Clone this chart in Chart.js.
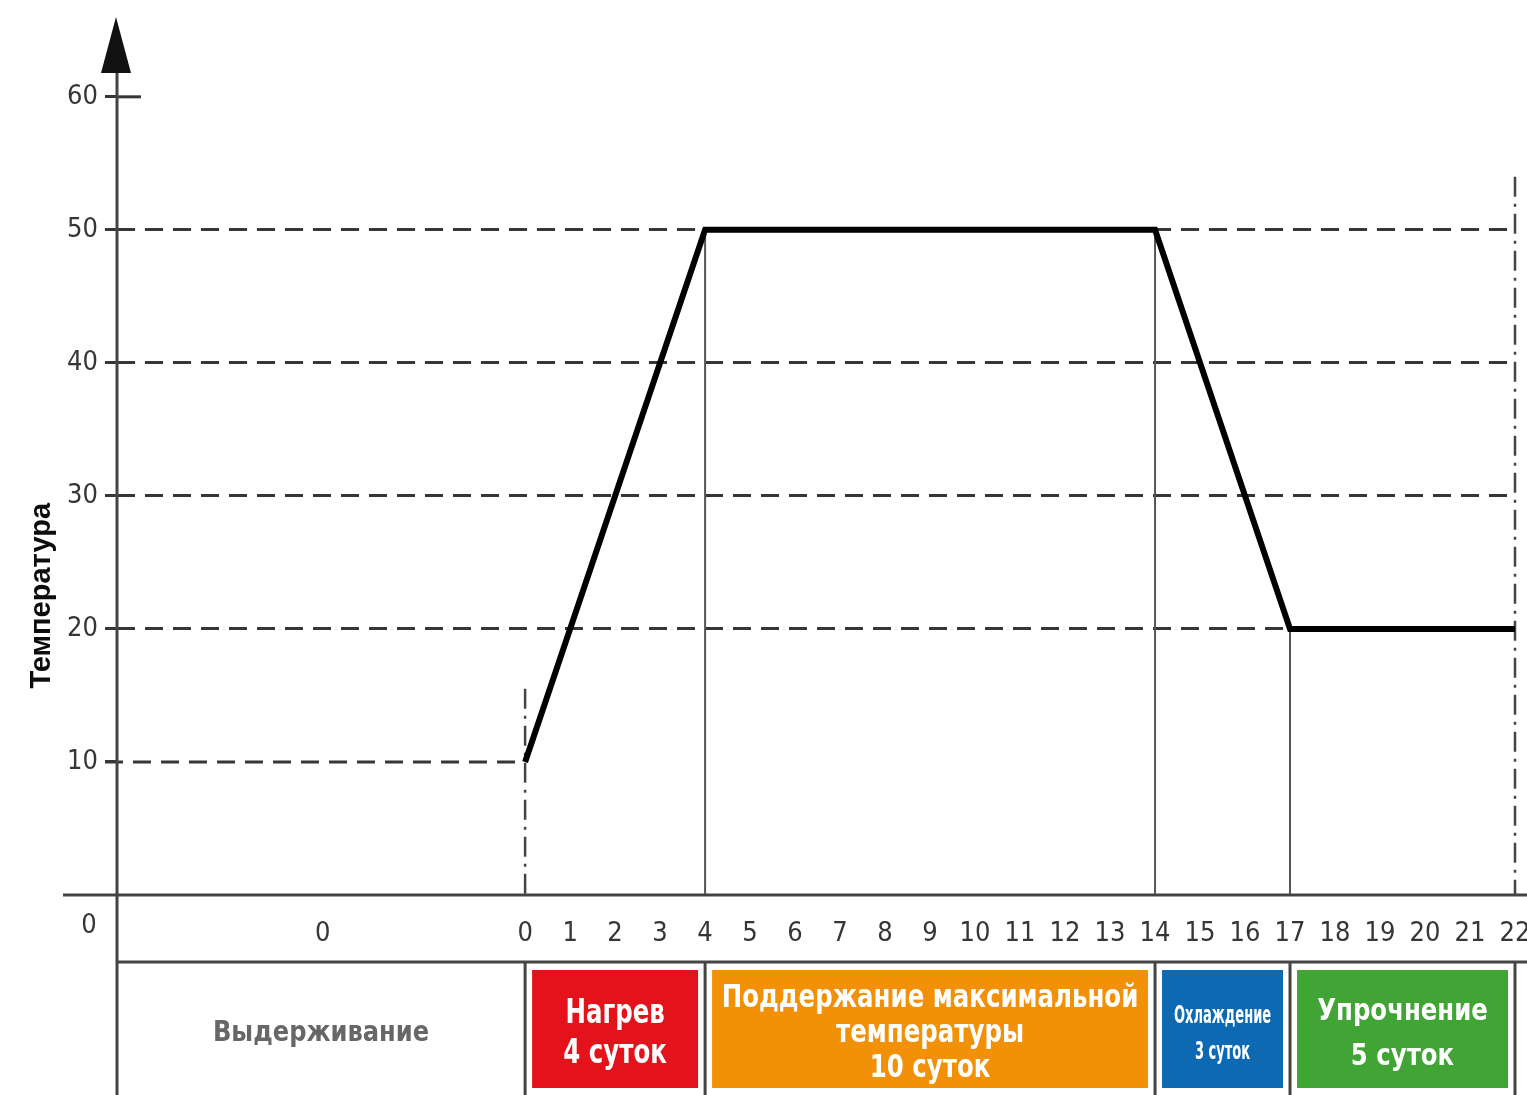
<!DOCTYPE html>
<html lang="ru">
<head>
<meta charset="utf-8">
<title>Температурный режим</title>
<script src="https://cdn.jsdelivr.net/npm/chart.js@4.4.1/dist/chart.umd.min.js"></script>
<style>
  html, body { margin: 0; padding: 0; background: #fff; }
  #wrap { width: 1527px; height: 1095px; position: relative; }
</style>
</head>
<body>
<div id="wrap"><canvas id="tempChart"></canvas></div>
<script>
// values
const dayTicks = [0, 1, 2, 3, 4, 5, 6, 7, 8, 9, 10, 11, 12, 13, 14, 15, 16, 17, 18, 19, 20, 21, 22];
const holdDays = 9.07;        // width of the holding column, in days
const holdLabelDay = -4.5;    // where its "0" sits
const tempDays = [0, 4, 14, 17, 22];
const tempValues = [10, 50, 50, 20, 20];
const tempTicks = [10, 20, 30, 40, 50, 60];
const dashedTemps = [20, 30, 40, 50];
const holdTemp = 10;
const startMarkTop = 15.5;    // dash-dot line at day 0 goes up to here
const endMarkTop = 54;        // dash-dot line at day 22
const phaseEdges = [0, 4, 14, 17, 22];
const holdLabel = 'Выдерживание';
const phaseLabels = [
  ['Нагрев', '4 суток'],
  ['Поддержание максимальной', 'температуры', '10 суток'],
  ['Охлаждение', '3 суток'],
  ['Упрочнение', '5 суток']
];
const phaseColors = ['#e3121b', '#f29108', '#0e69b3', '#40a535'];
const yTitle = 'Температура';

const NARROW = '"Liberation Sans Narrow", "DejaVu Sans Condensed", "Arial Narrow", sans-serif';
const INK = '#363636';

// fonts in the table are condensed; squeeze canvas text horizontally
function squeeze(ctx, text, x, y, factor) {
  ctx.save();
  ctx.translate(x, y);
  ctx.scale(factor, 1);
  ctx.fillText(text, 0, 0);
  ctx.restore();
}

// dashed level at 10, drop lines and dash-dot markers, under the curve
const guides = {
  id: 'guides',
  beforeDatasetsDraw(chart) {
    const { ctx, chartArea } = chart;
    const x = chart.scales.x, y = chart.scales.y;
    const y0 = y.getPixelForValue(0);
    ctx.save();
    ctx.strokeStyle = INK;
    ctx.lineWidth = 3;
    ctx.setLineDash([18, 10]);
    ctx.beginPath();
    ctx.moveTo(chartArea.left - 12, y.getPixelForValue(holdTemp));
    ctx.lineTo(x.getPixelForValue(0), y.getPixelForValue(holdTemp));
    ctx.stroke();

    // thin drops from the corners of the curve
    ctx.setLineDash([]);
    ctx.lineWidth = 2;
    ctx.strokeStyle = '#555';
    for (let i = 1; i < tempDays.length - 1; i++) {
      const px = x.getPixelForValue(tempDays[i]);
      ctx.beginPath();
      ctx.moveTo(px, y.getPixelForValue(tempValues[i]));
      ctx.lineTo(px, y0);
      ctx.stroke();
    }

    // dash-dot markers at start and end
    ctx.lineWidth = 2.5;
    ctx.strokeStyle = '#444';
    ctx.setLineDash([20, 7, 3, 7]);
    [[0, startMarkTop], [22, endMarkTop]].forEach(([d, top]) => {
      const px = x.getPixelForValue(d);
      ctx.beginPath();
      ctx.moveTo(px, y.getPixelForValue(top));
      ctx.lineTo(px, y0);
      ctx.stroke();
    });

    // short stub of the 60 tick right of the axis
    ctx.setLineDash([]);
    ctx.lineWidth = 3;
    ctx.strokeStyle = INK;
    ctx.beginPath();
    ctx.moveTo(chartArea.left, y.getPixelForValue(60));
    ctx.lineTo(chartArea.left + 24, y.getPixelForValue(60));
    ctx.stroke();
    ctx.restore();
  },
  afterDraw(chart) {
    const { ctx, chartArea } = chart;
    const x = chart.scales.x, y = chart.scales.y;
    const W = chart.width, H = chart.height;
    const ax = chartArea.left;
    const y0 = y.getPixelForValue(0);
    const rowY = y0 + 67;
    ctx.save();

    // axes
    ctx.strokeStyle = '#444';
    ctx.lineWidth = 3;
    ctx.beginPath();
    ctx.moveTo(ax, y.getPixelForValue(y.max) + 50);
    ctx.lineTo(ax, H);
    ctx.moveTo(63, y0);
    ctx.lineTo(W, y0);
    ctx.moveTo(ax, rowY);
    ctx.lineTo(W, rowY);
    phaseEdges.forEach(d => {
      const px = x.getPixelForValue(d);
      ctx.moveTo(px, rowY);
      ctx.lineTo(px, H);
    });
    ctx.stroke();

    // arrow head
    const tip = y.getPixelForValue(y.max);
    ctx.fillStyle = '#111';
    ctx.beginPath();
    ctx.moveTo(ax - 1, tip);
    ctx.lineTo(ax - 16, tip + 56);
    ctx.lineTo(ax + 14, tip + 56);
    ctx.closePath();
    ctx.fill();

    // origin label
    ctx.fillStyle = INK;
    ctx.font = '27px ' + NARROW;
    ctx.textAlign = 'center';
    ctx.textBaseline = 'middle';
    ctx.fillText('0', 89, y0 + 31);

    // y title, rotated
    ctx.save();
    ctx.translate(42, y.getPixelForValue(22.5));
    ctx.rotate(-Math.PI / 2);
    ctx.fillStyle = '#0d0d0d';
    ctx.font = 'bold 29px "Liberation Sans", Arial, sans-serif';
    ctx.fillText(yTitle, 0, 0);
    ctx.restore();

    // phase table
    const top = rowY + 8, bottom = H - 7;
    const midY = (top + bottom) / 2 + 5;
    ctx.fillStyle = '#676767';
    ctx.font = 'bold 28px ' + NARROW;
    squeeze(ctx, holdLabel, (ax + x.getPixelForValue(0)) / 2, midY, 0.96);

    const sizes = [34, 32, 25, 31];
    const factors = [0.8, 0.85, 0.58, 0.875];
    const steps = [40, 35, 36, 45];
    phaseLabels.forEach((lines, i) => {
      const l = x.getPixelForValue(phaseEdges[i]) + 7;
      const r = x.getPixelForValue(phaseEdges[i + 1]) - 7;
      ctx.fillStyle = phaseColors[i];
      ctx.fillRect(l, top, r - l, bottom - top);
      ctx.fillStyle = '#fff';
      ctx.font = 'bold ' + sizes[i] + 'px ' + NARROW;
      const cx = (l + r) / 2;
      lines.forEach((t, k) => {
        const ty = midY + (k - (lines.length - 1) / 2) * steps[i];
        squeeze(ctx, t, cx, ty, factors[i]);
      });
    });
    ctx.restore();
  }
};

const ctxTemp = document.getElementById('tempChart').getContext('2d');
const tempChart = new Chart(ctxTemp, {
  type: 'scatter',
  data: {
    datasets: [{
      label: yTitle,
      data: tempDays.map((d, i) => ({ x: d, y: tempValues[i] })),
      showLine: true,
      borderColor: '#000',
      borderWidth: 6,
      borderJoinStyle: 'miter',
      pointRadius: 0,
      tension: 0,
      clip: false
    }]
  },
  options: {
    responsive: true,
    maintainAspectRatio: false,
    animation: false,
    layout: { padding: { top: 17, right: 12, bottom: 0, left: 0 } },
    plugins: { legend: { display: false }, tooltip: { enabled: false } },
    scales: {
      x: {
        type: 'linear',
        min: -holdDays,
        max: 22,
        afterBuildTicks: s => { s.ticks = [holdLabelDay].concat(dayTicks).map(v => ({ value: v })); },
        afterFit: s => { s.height = 200; s.paddingLeft = 0; s.paddingRight = 0; },
        grid: { display: false },
        border: { display: false },
        ticks: {
          autoSkip: false,
          maxRotation: 0,
          padding: 15,
          color: INK,
          font: { family: NARROW, size: 27 },
          callback: v => (v < 0 ? '0' : String(v))
        }
      },
      y: {
        min: 0,
        max: 66,
        afterBuildTicks: s => { s.ticks = tempTicks.map(v => ({ value: v })); },
        afterFit: s => { s.width = 117; s.paddingTop = 0; s.paddingBottom = 0; },
        border: { display: false, dash: [18, 10] },
        grid: {
          lineWidth: 3,
          color: c => (dashedTemps.includes(c.tick.value) ? INK : 'transparent'),
          tickColor: INK,
          tickLength: 12,
          tickWidth: 3
        },
        ticks: {
          padding: 7,
          color: INK,
          font: { family: NARROW, size: 27 }
        }
      }
    }
  },
  plugins: [guides]
});
</script>
</body>
</html>
